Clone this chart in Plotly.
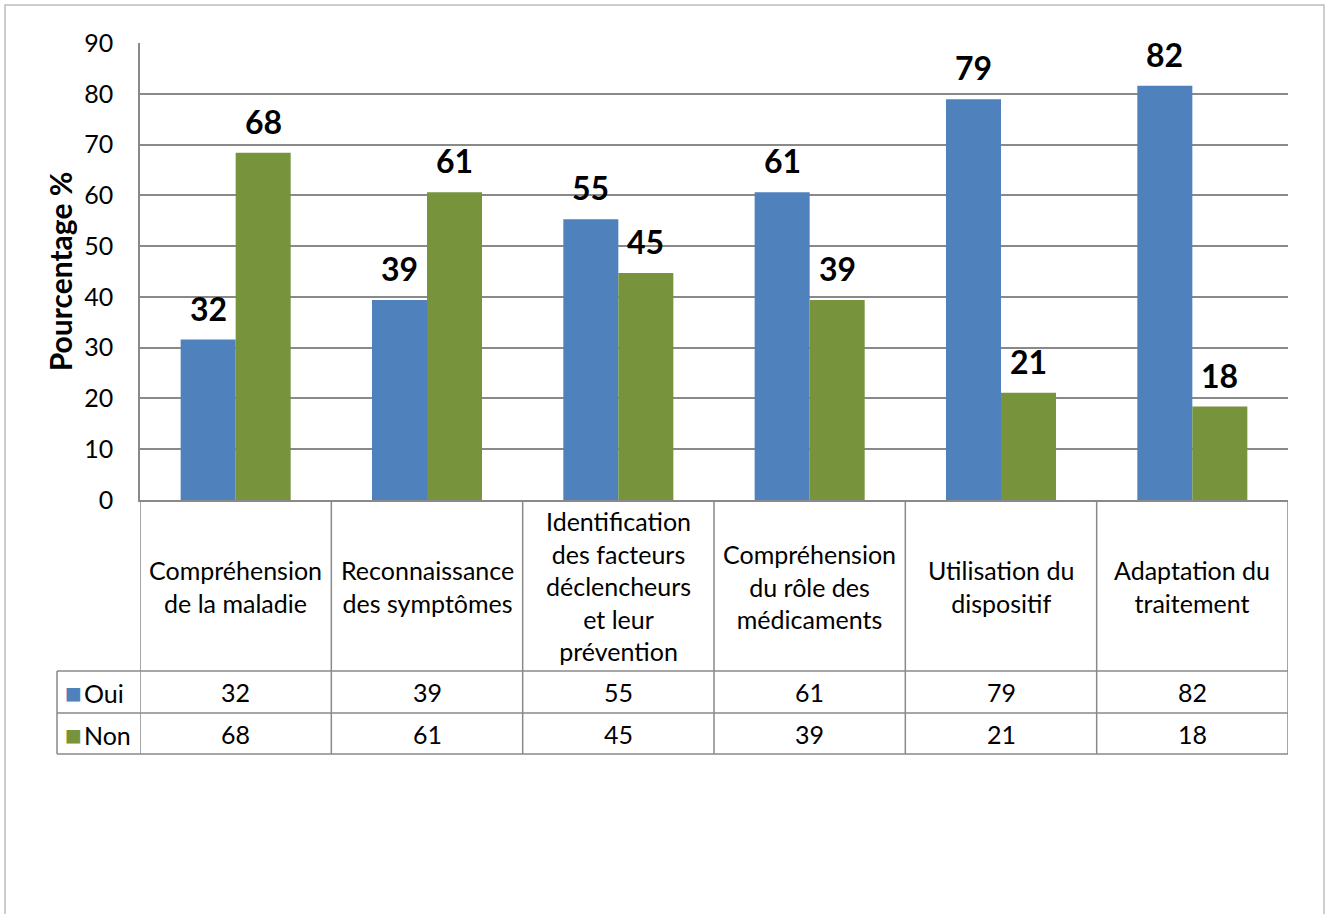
import plotly.graph_objects as go

categories = [
    "Compréhension<br>de la maladie",
    "Reconnaissance<br>des symptômes",
    "Identification<br>des facteurs<br>déclencheurs<br>et leur<br>prévention",
    "Compréhension<br>du rôle des<br>médicaments",
    "Utilisation du<br>dispositif",
    "Adaptation du<br>traitement",
]
oui = [31.6, 39.4, 55.3, 60.6, 78.9, 81.6]
non = [68.4, 60.6, 44.7, 39.4, 21.1, 18.4]

BLUE = "#4F81BD"
GREEN = "#77933C"
GRID = "#898989"
FONT = "Lato"
BARGAP = 0.425

x_idx = list(range(len(categories)))

fig = go.Figure()
fig.add_trace(go.Bar(name="Oui", x=x_idx, y=oui, marker_color=BLUE, marker_line_width=0))
fig.add_trace(go.Bar(name="Non", x=x_idx, y=non, marker_color=GREEN, marker_line_width=0))

# plot area spans px 140..1288 horizontally, 43..500 vertically
def py(p):
    return (500 - p) / 457

def px(p):
    return (p - 140) / 1148

shapes = []
# data table grid
for i in range(len(categories) + 1):
    shapes.append(dict(type="line", xref="x", yref="paper", x0=i - 0.5, x1=i - 0.5,
                       y0=0, y1=py(754), line=dict(color=GRID, width=1.5)))
for row in (671, 713, 754):
    shapes.append(dict(type="line", xref="paper", yref="paper", x0=px(57), x1=1,
                       y0=py(row), y1=py(row), line=dict(color=GRID, width=1.5)))
shapes.append(dict(type="line", xref="paper", yref="paper", x0=px(57), x1=px(57),
                   y0=py(671), y1=py(754), line=dict(color=GRID, width=1.5)))
# outer chart border
shapes.append(dict(type="rect", xref="paper", yref="paper", x0=px(5), x1=px(1324),
                   y0=py(930), y1=py(5), line=dict(color="#BDBDBD", width=1.5)))

annotations = []
# bold value labels above the bars
half = (1 - BARGAP) / 4
for vals, off in ((oui, -half), (non, half)):
    for i, v in enumerate(vals):
        annotations.append(dict(x=i + off, y=v, xref="x", yref="y", text=f"{v:.0f}",
                                showarrow=False, yanchor="bottom", yshift=10,
                                font=dict(family=FONT, size=32, color="black", weight="bold")))
for i, cat in enumerate(categories):
    annotations.append(dict(x=i, y=py(586), xref="x", yref="paper", text=cat,
                            showarrow=False, font=dict(family=FONT, size=25, color="black"),
                            yanchor="middle"))
    annotations.append(dict(x=i, y=py(692), xref="x", yref="paper", text=f"{oui[i]:.0f}",
                            showarrow=False, font=dict(family=FONT, size=25, color="black"),
                            yanchor="middle"))
    annotations.append(dict(x=i, y=py(734), xref="x", yref="paper", text=f"{non[i]:.0f}",
                            showarrow=False, font=dict(family=FONT, size=25, color="black"),
                            yanchor="middle"))
for name, color, row in (("Oui", BLUE, 692), ("Non", GREEN, 734)):
    annotations.append(dict(x=px(63), y=py(row), xref="paper", yref="paper",
                            text=(f"<span style='color:{color};font-size:28px'>■</span>"
                                  f"<span style='font-size:8px'> </span>{name}"),
                            showarrow=False, xanchor="left", yanchor="middle",
                            font=dict(family=FONT, size=25, color="black")))

fig.update_layout(
    width=1328, height=914,
    margin=dict(l=140, r=40, t=43, b=414),
    plot_bgcolor="white", paper_bgcolor="white",
    barmode="group", bargap=BARGAP, bargroupgap=0,
    showlegend=False,
    font=dict(family=FONT, size=25, color="black"),
    shapes=shapes, annotations=annotations,
    xaxis=dict(range=[-0.5, len(categories) - 0.5], showticklabels=False,
               showgrid=False, zeroline=False, showline=True,
               linecolor=GRID, linewidth=1.5),
    yaxis=dict(range=[0, 90], dtick=10, showgrid=True, gridcolor=GRID, gridwidth=1.5,
               zeroline=False, showline=True, linecolor=GRID, linewidth=1.5,
               ticks="", ticklabelstandoff=20,
               tickfont=dict(family=FONT, size=25, color="black"),
               title=dict(text="Pourcentage %", standoff=3,
                          font=dict(family=FONT, size=30, color="black", weight="bold"))),
)

fig.write_html("out.html", config={"displayModeBar": False},
               post_script="document.body.style.margin='0';")
